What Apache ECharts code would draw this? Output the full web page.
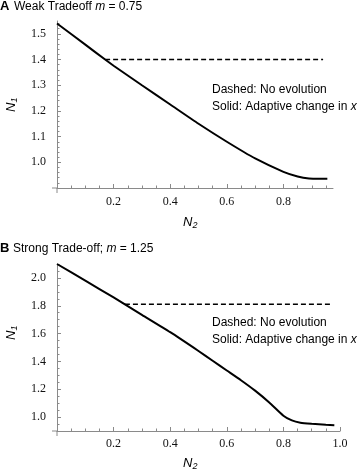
<!DOCTYPE html>
<html><head><meta charset="utf-8">
<script src="https://cdn.jsdelivr.net/npm/echarts@6/dist/echarts.min.js"></script>
<style>html,body{margin:0;padding:0;background:#fff}#c{width:360px;height:473px}</style>
</head><body><div id="c"></div>
<script>
// Panel A: Weak tradeoff
const n2A = [0, 0.1, 0.17, 0.2, 0.3, 0.4, 0.5, 0.6, 0.7, 0.8, 0.85, 0.89, 0.93, 0.955];
const n1A = [1.54, 1.458, 1.40, 1.376, 1.30, 1.225, 1.15, 1.08, 1.015, 0.963, 0.945, 0.937, 0.936, 0.936];
const dashA_x = [0.17, 0.94];
const dashA_y = [1.40, 1.40];
// Panel B: Strong trade-off
const n2B = [0, 0.1, 0.2, 0.24, 0.3, 0.4, 0.5, 0.55, 0.6, 0.65, 0.7, 0.75, 0.8, 0.83, 0.86, 0.9, 0.95, 0.98];
const n1B = [2.10, 1.98, 1.86, 1.81, 1.735, 1.61, 1.475, 1.405, 1.335, 1.265, 1.19, 1.105, 1.01, 0.976, 0.96, 0.952, 0.945, 0.942];
const dashB_x = [0.24, 0.975];
const dashB_y = [1.81, 1.81];
// Tick labels
const xTicksA = [0.2, 0.4, 0.6, 0.8];
const yTicksA = [1.0, 1.1, 1.2, 1.3, 1.4, 1.5];
const xTicksB = [0.2, 0.4, 0.6, 0.8, 1.0];
const yTicksB = [1.0, 1.2, 1.4, 1.6, 1.8, 2.0];

function minors(lo, hi, step) {
  const out = [];
  for (let v = lo; v <= hi + 1e-9; v += step) out.push(Math.round(v * 1000) / 1000);
  return out;
}
const zip = (a, b) => a.map((v, i) => [v, b[i]]);

const axisColor = '#8a8a8a';
const labelFont = { fontFamily: 'Liberation Serif', fontSize: 12, color: '#111' };

function mkX(grid, min, max, ticks, minorVals, margin) {
  return [
    { type: 'value', gridIndex: grid, min, max, position: 'bottom',
      axisLine: { show: true, lineStyle: { color: axisColor, width: 1 } },
      axisTick: { show: true, inside: true, length: 4, customValues: ticks, lineStyle: { color: axisColor } },
      axisLabel: { show: true, customValues: ticks, margin, formatter: v => v.toFixed(1), ...labelFont },
      splitLine: { show: false } },
    { type: 'value', gridIndex: grid, min, max, position: 'bottom',
      axisLine: { show: false },
      axisTick: { show: true, inside: true, length: 2.5, customValues: minorVals, lineStyle: { color: axisColor } },
      axisLabel: { show: false }, splitLine: { show: false } }
  ];
}
function mkY(grid, min, max, ticks, minorVals) {
  return [
    { type: 'value', gridIndex: grid, min, max, position: 'left',
      axisLine: { show: true, lineStyle: { color: axisColor, width: 1 } },
      axisTick: { show: true, inside: true, length: 4, customValues: ticks, lineStyle: { color: axisColor } },
      axisLabel: { show: true, customValues: ticks, margin: 11, formatter: v => v.toFixed(1), ...labelFont },
      splitLine: { show: false } },
    { type: 'value', gridIndex: grid, min, max, position: 'left', offset: 0,
      axisLine: { show: false },
      axisTick: { show: true, inside: true, length: 2.5, customValues: minorVals, lineStyle: { color: axisColor } },
      axisLabel: { show: false }, splitLine: { show: false } }
  ];
}

const chart = echarts.init(document.getElementById('c'), null, { renderer: 'canvas' });
const rich = {
  i: { fontFamily: 'Liberation Sans', fontStyle: 'italic', fontSize: 13, color: '#111' },
  s: { fontFamily: 'Liberation Sans', fontStyle: 'italic', fontSize: 9, color: '#111', padding: [6, 0, 0, 0] }
};
const ttl = { fontFamily: 'Liberation Sans', fontSize: 12, color: '#111' };
const leg = { fontFamily: 'Liberation Sans', fontSize: 12, color: '#111' };

chart.setOption({
  animation: false,
  grid: [
    { left: 57, top: 21, width: 276, height: 167 },
    { left: 57, top: 264, width: 283, height: 167 }
  ],
  xAxis: [
    ...mkX(0, 0, 0.975, xTicksA, minors(0, 0.95, 0.05), 8),
    ...mkX(1, 0, 1.0, xTicksB, minors(0, 1.0, 0.05), 7)
  ],
  yAxis: [
    ...mkY(0, 0.9, 1.55, yTicksA, minors(0.9, 1.54, 0.02)),
    ...mkY(1, 0.9, 2.1, yTicksB, minors(0.9, 2.1, 0.05))
  ],
  series: [
    { type: 'line', xAxisIndex: 0, yAxisIndex: 0, data: zip(n2A, n1A), smooth: 0.2, showSymbol: false,
      lineStyle: { color: '#000', width: 2 } },
    { type: 'line', xAxisIndex: 0, yAxisIndex: 0, data: zip(dashA_x, dashA_y), showSymbol: false,
      lineStyle: { color: '#000', width: 1.5, type: [5, 3] } },
    { type: 'line', xAxisIndex: 2, yAxisIndex: 2, data: zip(n2B, n1B), smooth: 0.2, showSymbol: false,
      lineStyle: { color: '#000', width: 2 } },
    { type: 'line', xAxisIndex: 2, yAxisIndex: 2, data: zip(dashB_x, dashB_y), showSymbol: false,
      lineStyle: { color: '#000', width: 1.5, type: [5, 3] } }
  ]
});

const texts = [
  { id: 'tA', type: 'text', left: 0, top: 0, style: { text: 'A', fontFamily: 'Liberation Sans', fontWeight: 'bold', fontSize: 13, fill: '#000' } },
  { id: 'tA2', type: 'text', left: 14, top: 1, style: { text: '{n|Weak Tradeoff }{m|m}{n| = 0.75}', rich: { n: ttl, m: { ...ttl, fontStyle: 'italic' } } } },
  { id: 'tB', type: 'text', left: 0, top: 242, style: { text: 'B', fontFamily: 'Liberation Sans', fontWeight: 'bold', fontSize: 13, fill: '#000' } },
  { id: 'tB2', type: 'text', left: 13, top: 243, style: { text: '{n|Strong Trade-off; }{m|m}{n| = 1.25}', rich: { n: ttl, m: { ...ttl, fontStyle: 'italic' } } } },
  { id: 'l1', type: 'text', left: 212, top: 84, style: { text: 'Dashed: No evolution', ...leg } },
  { id: 'l2', type: 'text', left: 212, top: 101, style: { text: '{n|Solid: Adaptive change in }{m|x}', rich: { n: leg, m: { ...leg, fontStyle: 'italic' } } } },
  { id: 'l3', type: 'text', left: 212, top: 317, style: { text: 'Dashed: No evolution', ...leg } },
  { id: 'l4', type: 'text', left: 212, top: 334, style: { text: '{n|Solid: Adaptive change in }{m|x}', rich: { n: leg, m: { ...leg, fontStyle: 'italic' } } } },
  { id: 'y1', type: 'text', x: 4, y: 112, rotation: Math.PI / 2, style: { text: '{i|N}{s|1}', rich } },
  { id: 'y2', type: 'text', x: 4, y: 340, rotation: Math.PI / 2, style: { text: '{i|N}{s|1}', rich } },
  { id: 'x1', type: 'text', left: 183, top: 216, style: { text: '{i|N}{s|2}', rich } },
  { id: 'x2', type: 'text', left: 183, top: 457, style: { text: '{i|N}{s|2}', rich } }
];

// small axis overhang at the origin (Mathematica style cross), placed via the axes' scales
const extra = [];
[[0, 0, 0.9], [2, 2, 0.9]].forEach(([xi, yi, ymin], k) => {
  const p = chart.convertToPixel({ xAxisIndex: xi, yAxisIndex: yi }, [0, ymin]);
  extra.push({ id: 'ov' + k + 'a', type: 'line', shape: { x1: p[0], y1: p[1], x2: p[0], y2: p[1] + 5 }, style: { stroke: axisColor, lineWidth: 1 } });
  extra.push({ id: 'ov' + k + 'b', type: 'line', shape: { x1: p[0] - 5, y1: p[1], x2: p[0], y2: p[1] }, style: { stroke: axisColor, lineWidth: 1 } });
});
chart.setOption({ graphic: texts.concat(extra) });
</script></body></html>
